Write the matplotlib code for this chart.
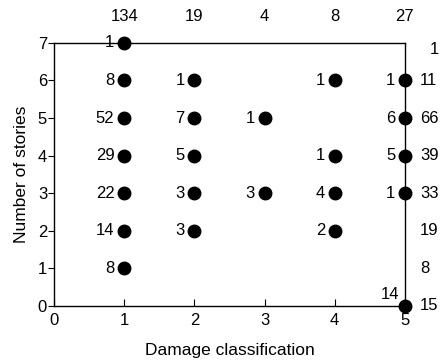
import numpy as np
from matplotlib import pyplot as plt

# damage class (x), number of stories (y), count of buildings at that point
damage = [1, 1, 1, 1, 1, 1, 1, 2, 2, 2, 2, 2, 3, 3, 4, 4, 4, 4, 5, 5, 5, 5, 5]
stories = [7, 6, 5, 4, 3, 2, 1, 6, 5, 4, 3, 2, 5, 3, 6, 4, 3, 2, 6, 5, 4, 3, 0]
counts = [1, 8, 52, 29, 22, 14, 8, 1, 7, 5, 3, 3, 1, 3, 1, 1, 4, 2, 1, 6, 5, 1, 14]

# totals printed along the top (per damage class) and right side (per story)
col_x = [1, 2, 3, 4, 5]
col_totals = [134, 19, 4, 8, 27]
row_y = [7, 6, 5, 4, 3, 2, 1, 0]
row_totals = [1, 11, 66, 39, 33, 19, 8, 15]

plt.rcParams['font.family'] = ['Liberation Sans', 'DejaVu Sans']
fs = 12

fig = plt.figure(figsize=(4.43, 3.60), dpi=100)
ax = fig.add_axes([0.122, 0.15, 0.792, 0.731])

ax.plot(damage, stories, 'o', color='black', markersize=9, clip_on=False, zorder=5)

for x, y, c in zip(damage, stories, counts):
    if x == 5 and y == 0:
        ax.annotate(str(c), (x, y), xytext=(-4, 8), textcoords='offset points',
                    ha='right', va='center', fontsize=fs)
    else:
        ax.annotate(str(c), (x, y), xytext=(-7, 0), textcoords='offset points',
                    ha='right', va='center', fontsize=fs)

for x, t in zip(col_x, col_totals):
    ax.annotate(str(t), (x, 7), xytext=(0, 19), textcoords='offset points',
                ha='center', va='center', fontsize=fs, annotation_clip=False)

for y, t in zip(row_y, row_totals):
    dy = -5 if y == 7 else 0
    dx = 18 if y == 7 else 11
    ax.annotate(str(t), (5, y), xytext=(dx, dy), textcoords='offset points',
                ha='left', va='center', fontsize=fs, annotation_clip=False)

ax.set_xlim(0, 5)
ax.set_ylim(0, 7)
ax.set_xticks(range(0, 6))
ax.set_yticks(range(0, 8))
ax.tick_params(axis='x', direction='in', length=5, labelsize=fs, pad=5)
ax.tick_params(axis='y', direction='out', length=4, labelsize=fs, pad=1)
for s in ax.spines.values():
    s.set_linewidth(1.0)

ax.set_xlabel('Damage classification', fontsize=12.5, labelpad=11)
ax.set_ylabel('Number of stories', fontsize=12.5, labelpad=6)

fig.savefig('out.png', dpi=100)
